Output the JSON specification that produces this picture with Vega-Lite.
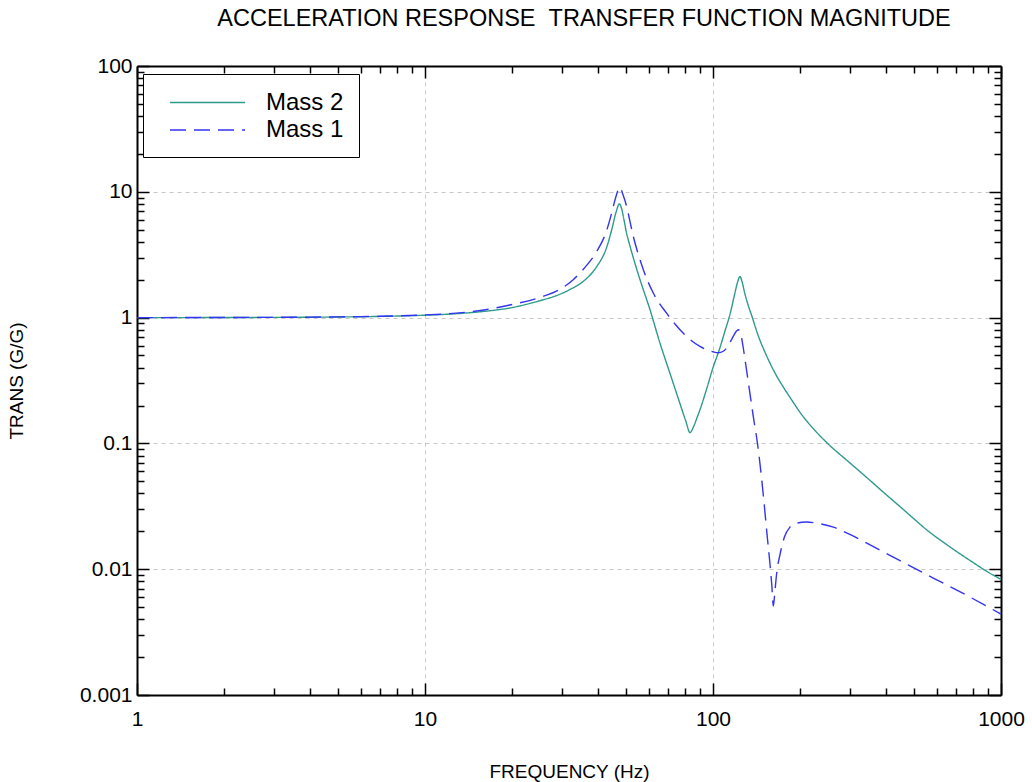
{
  "$schema": "https://vega.github.io/schema/vega-lite/v6.json",
  "width": 864,
  "height": 629,
  "autosize": "none",
  "padding": {"left": 137, "top": 66, "right": 31, "bottom": 87},
  "background": "white",
  "config": {
    "font": "Liberation Sans",
    "view": {"stroke": null},
    "axis": {
      "domainColor": "black",
      "domainWidth": 2,
      "tickColor": "black",
      "tickWidth": 1.5,
      "labelFont": "Liberation Sans",
      "labelFontSize": 21,
      "labelColor": "black",
      "titleFont": "Liberation Sans",
      "titleFontSize": 19,
      "titleFontWeight": "normal",
      "titleColor": "black",
      "labelOverlap": false,
      "labelFlush": false
    },
    "legend": {
      "labelFont": "Liberation Sans",
      "labelFontSize": 24,
      "labelColor": "black"
    }
  },
  "title": {
    "text": "ACCELERATION RESPONSE \u00a0TRANSFER FUNCTION MAGNITUDE",
    "font": "Liberation Sans",
    "fontSize": 23.5,
    "fontWeight": "normal",
    "color": "black",
    "anchor": "middle",
    "offset": 1,
    "dx": 15,
    "baseline": "bottom"
  },
  "data": {
    "values": [
      {"freq": 1, "value": 1.0, "series": "Mass 2"},
      {"freq": 1.5, "value": 1.0, "series": "Mass 2"},
      {"freq": 2, "value": 1.002, "series": "Mass 2"},
      {"freq": 3, "value": 1.004, "series": "Mass 2"},
      {"freq": 4, "value": 1.007, "series": "Mass 2"},
      {"freq": 5, "value": 1.011, "series": "Mass 2"},
      {"freq": 6, "value": 1.016, "series": "Mass 2"},
      {"freq": 7, "value": 1.022, "series": "Mass 2"},
      {"freq": 8, "value": 1.029, "series": "Mass 2"},
      {"freq": 10, "value": 1.045, "series": "Mass 2"},
      {"freq": 12.5, "value": 1.07, "series": "Mass 2"},
      {"freq": 16, "value": 1.12, "series": "Mass 2"},
      {"freq": 20, "value": 1.2, "series": "Mass 2"},
      {"freq": 25, "value": 1.36, "series": "Mass 2"},
      {"freq": 28, "value": 1.47, "series": "Mass 2"},
      {"freq": 32, "value": 1.68, "series": "Mass 2"},
      {"freq": 36, "value": 2.0, "series": "Mass 2"},
      {"freq": 39.5, "value": 2.55, "series": "Mass 2"},
      {"freq": 42.7, "value": 3.6, "series": "Mass 2"},
      {"freq": 44.5, "value": 5.0, "series": "Mass 2"},
      {"freq": 46, "value": 6.8, "series": "Mass 2"},
      {"freq": 47.3, "value": 8.0, "series": "Mass 2"},
      {"freq": 48.2, "value": 7.3, "series": "Mass 2"},
      {"freq": 49, "value": 6.1, "series": "Mass 2"},
      {"freq": 50.1, "value": 4.7, "series": "Mass 2"},
      {"freq": 51.5, "value": 3.7, "series": "Mass 2"},
      {"freq": 52.9, "value": 2.98, "series": "Mass 2"},
      {"freq": 55.8, "value": 2.0, "series": "Mass 2"},
      {"freq": 60.4, "value": 1.16, "series": "Mass 2"},
      {"freq": 65.4, "value": 0.63, "series": "Mass 2"},
      {"freq": 70.9, "value": 0.36, "series": "Mass 2"},
      {"freq": 76.8, "value": 0.207, "series": "Mass 2"},
      {"freq": 80.5, "value": 0.15, "series": "Mass 2"},
      {"freq": 83.2, "value": 0.122, "series": "Mass 2"},
      {"freq": 85.5, "value": 0.135, "series": "Mass 2"},
      {"freq": 88, "value": 0.16, "series": "Mass 2"},
      {"freq": 90.1, "value": 0.185, "series": "Mass 2"},
      {"freq": 95, "value": 0.27, "series": "Mass 2"},
      {"freq": 100, "value": 0.4, "series": "Mass 2"},
      {"freq": 105, "value": 0.55, "series": "Mass 2"},
      {"freq": 110, "value": 0.78, "series": "Mass 2"},
      {"freq": 115, "value": 1.1, "series": "Mass 2"},
      {"freq": 119, "value": 1.55, "series": "Mass 2"},
      {"freq": 122, "value": 1.95, "series": "Mass 2"},
      {"freq": 124, "value": 2.12, "series": "Mass 2"},
      {"freq": 126, "value": 1.95, "series": "Mass 2"},
      {"freq": 129, "value": 1.55, "series": "Mass 2"},
      {"freq": 133, "value": 1.22, "series": "Mass 2"},
      {"freq": 137, "value": 1.0, "series": "Mass 2"},
      {"freq": 141, "value": 0.81, "series": "Mass 2"},
      {"freq": 145, "value": 0.675, "series": "Mass 2"},
      {"freq": 150, "value": 0.56, "series": "Mass 2"},
      {"freq": 157.7, "value": 0.435, "series": "Mass 2"},
      {"freq": 165, "value": 0.355, "series": "Mass 2"},
      {"freq": 175, "value": 0.283, "series": "Mass 2"},
      {"freq": 187, "value": 0.224, "series": "Mass 2"},
      {"freq": 200, "value": 0.178, "series": "Mass 2"},
      {"freq": 225, "value": 0.128, "series": "Mass 2"},
      {"freq": 250, "value": 0.1, "series": "Mass 2"},
      {"freq": 300, "value": 0.0694, "series": "Mass 2"},
      {"freq": 342, "value": 0.0535, "series": "Mass 2"},
      {"freq": 400, "value": 0.039, "series": "Mass 2"},
      {"freq": 450, "value": 0.0309, "series": "Mass 2"},
      {"freq": 500, "value": 0.025, "series": "Mass 2"},
      {"freq": 550, "value": 0.0207, "series": "Mass 2"},
      {"freq": 650, "value": 0.0156, "series": "Mass 2"},
      {"freq": 800, "value": 0.0113, "series": "Mass 2"},
      {"freq": 900, "value": 0.0095, "series": "Mass 2"},
      {"freq": 1000, "value": 0.0083, "series": "Mass 2"},
      {"freq": 1, "value": 1.0, "series": "Mass 1"},
      {"freq": 2, "value": 1.002, "series": "Mass 1"},
      {"freq": 3, "value": 1.005, "series": "Mass 1"},
      {"freq": 4, "value": 1.008, "series": "Mass 1"},
      {"freq": 5, "value": 1.013, "series": "Mass 1"},
      {"freq": 6, "value": 1.018, "series": "Mass 1"},
      {"freq": 7, "value": 1.025, "series": "Mass 1"},
      {"freq": 8, "value": 1.033, "series": "Mass 1"},
      {"freq": 10, "value": 1.05, "series": "Mass 1"},
      {"freq": 12.5, "value": 1.08, "series": "Mass 1"},
      {"freq": 16, "value": 1.15, "series": "Mass 1"},
      {"freq": 19.7, "value": 1.26, "series": "Mass 1"},
      {"freq": 25.4, "value": 1.46, "series": "Mass 1"},
      {"freq": 29, "value": 1.65, "series": "Mass 1"},
      {"freq": 32.7, "value": 2.0, "series": "Mass 1"},
      {"freq": 36.4, "value": 2.6, "series": "Mass 1"},
      {"freq": 39.5, "value": 3.36, "series": "Mass 1"},
      {"freq": 42.7, "value": 4.9, "series": "Mass 1"},
      {"freq": 44.5, "value": 6.8, "series": "Mass 1"},
      {"freq": 45.8, "value": 8.8, "series": "Mass 1"},
      {"freq": 47.5, "value": 10.9, "series": "Mass 1"},
      {"freq": 48.6, "value": 9.6, "series": "Mass 1"},
      {"freq": 50.1, "value": 7.7, "series": "Mass 1"},
      {"freq": 51.5, "value": 5.8, "series": "Mass 1"},
      {"freq": 52.9, "value": 4.4, "series": "Mass 1"},
      {"freq": 55, "value": 3.2, "series": "Mass 1"},
      {"freq": 57.3, "value": 2.4, "series": "Mass 1"},
      {"freq": 62.1, "value": 1.56, "series": "Mass 1"},
      {"freq": 69.1, "value": 1.08, "series": "Mass 1"},
      {"freq": 78.9, "value": 0.75, "series": "Mass 1"},
      {"freq": 90.1, "value": 0.59, "series": "Mass 1"},
      {"freq": 100, "value": 0.535, "series": "Mass 1"},
      {"freq": 104, "value": 0.525, "series": "Mass 1"},
      {"freq": 108.6, "value": 0.54, "series": "Mass 1"},
      {"freq": 113, "value": 0.6, "series": "Mass 1"},
      {"freq": 117.6, "value": 0.71, "series": "Mass 1"},
      {"freq": 120.5, "value": 0.78, "series": "Mass 1"},
      {"freq": 122.4, "value": 0.8, "series": "Mass 1"},
      {"freq": 124.5, "value": 0.76, "series": "Mass 1"},
      {"freq": 127, "value": 0.6, "series": "Mass 1"},
      {"freq": 130, "value": 0.42, "series": "Mass 1"},
      {"freq": 134, "value": 0.26, "series": "Mass 1"},
      {"freq": 138.5, "value": 0.155, "series": "Mass 1"},
      {"freq": 142.7, "value": 0.1, "series": "Mass 1"},
      {"freq": 146, "value": 0.065, "series": "Mass 1"},
      {"freq": 150, "value": 0.036, "series": "Mass 1"},
      {"freq": 154, "value": 0.019, "series": "Mass 1"},
      {"freq": 158, "value": 0.0105, "series": "Mass 1"},
      {"freq": 160, "value": 0.0075, "series": "Mass 1"},
      {"freq": 162, "value": 0.0051, "series": "Mass 1"},
      {"freq": 164, "value": 0.0066, "series": "Mass 1"},
      {"freq": 166.3, "value": 0.0092, "series": "Mass 1"},
      {"freq": 171, "value": 0.0132, "series": "Mass 1"},
      {"freq": 177, "value": 0.018, "series": "Mass 1"},
      {"freq": 185, "value": 0.0216, "series": "Mass 1"},
      {"freq": 195, "value": 0.0232, "series": "Mass 1"},
      {"freq": 211, "value": 0.0237, "series": "Mass 1"},
      {"freq": 230, "value": 0.0232, "series": "Mass 1"},
      {"freq": 262, "value": 0.0216, "series": "Mass 1"},
      {"freq": 300, "value": 0.0188, "series": "Mass 1"},
      {"freq": 342, "value": 0.0161, "series": "Mass 1"},
      {"freq": 446, "value": 0.0117, "series": "Mass 1"},
      {"freq": 582, "value": 0.0085, "series": "Mass 1"},
      {"freq": 760, "value": 0.0062, "series": "Mass 1"},
      {"freq": 1000, "value": 0.0044, "series": "Mass 1"}
    ]
  },
  "layer": [
    {
      "mark": {"type": "line", "strokeWidth": 1.4, "interpolate": "monotone", "clip": true},
      "encoding": {
        "x": {
          "field": "freq", "type": "quantitative",
          "scale": {"type": "log", "domain": [1, 1000], "nice": false},
          "axis": {
            "orient": "bottom",
            "title": "FREQUENCY (Hz)",
            "titlePadding": 28,
            "values": [1,2,3,4,5,6,7,8,9,10,20,30,40,50,60,70,80,90,100,200,300,400,500,600,700,800,900,1000],
            "format": "~g",
            "labelExpr": "abs(log(datum.value)/LN10 - round(log(datum.value)/LN10)) < 0.000001 ? datum.label : ''",
            "labelPadding": 25,
            "tickSize": {"condition": {"test": "abs(log(datum.value)/LN10 - round(log(datum.value)/LN10)) < 0.000001", "value": -12}, "value": -7},
            "grid": true,
            "gridColor": "#c8c8c8",
            "gridDash": [4, 4],
            "gridWidth": 1,
            "gridOpacity": {"condition": {"test": "abs(log(datum.value)/LN10 - round(log(datum.value)/LN10)) < 0.000001", "value": 1}, "value": 0}
          }
        },
        "y": {
          "field": "value", "type": "quantitative",
          "scale": {"type": "log", "domain": [0.001, 100], "nice": false},
          "axis": {
            "orient": "left",
            "title": "TRANS (G/G)",
            "titlePadding": 53,
            "values": [0.001,0.002,0.003,0.004,0.005,0.006,0.007,0.008,0.009,0.01,0.02,0.03,0.04,0.05,0.06,0.07,0.08,0.09,0.1,0.2,0.3,0.4,0.5,0.6,0.7,0.8,0.9,1,2,3,4,5,6,7,8,9,10,20,30,40,50,60,70,80,90,100],
            "format": "~g",
            "labelExpr": "abs(log(datum.value)/LN10 - round(log(datum.value)/LN10)) < 0.000001 ? datum.label : ''",
            "labelPadding": 17,
            "tickSize": {"condition": {"test": "abs(log(datum.value)/LN10 - round(log(datum.value)/LN10)) < 0.000001", "value": -12}, "value": -7},
            "grid": true,
            "gridColor": "#c8c8c8",
            "gridDash": [4, 4],
            "gridWidth": 1,
            "gridOpacity": {"condition": {"test": "abs(log(datum.value)/LN10 - round(log(datum.value)/LN10)) < 0.000001", "value": 1}, "value": 0}
          }
        },
        "color": {
          "field": "series", "type": "nominal",
          "scale": {"domain": ["Mass 2", "Mass 1"], "range": ["#2e9a8e", "#3434f2"]},
          "legend": {
            "title": null, "orient": "none", "legendX": 6, "legendY": 8,
            "symbolType": "M-3,0H3", "symbolSize": 625, "symbolStrokeWidth": 1.4,
            "symbolOffset": 36, "strokeColor": "black", "fillColor": "white", "padding": 15,
            "labelOffset": 45, "rowPadding": 1.5
          }
        },
        "strokeDash": {
          "field": "series", "type": "nominal",
          "scale": {"domain": ["Mass 2", "Mass 1"], "range": [[1, 0], [16, 8]]},
          "legend": {
            "title": null, "orient": "none", "legendX": 6, "legendY": 8,
            "symbolType": "M-3,0H3", "symbolSize": 625, "symbolStrokeWidth": 1.4,
            "symbolOffset": 36, "strokeColor": "black", "fillColor": "white", "padding": 15,
            "labelOffset": 45, "rowPadding": 1.5
          }
        }
      }
    },
    {
      "mark": {"type": "line", "opacity": 0},
      "encoding": {
        "x": {
          "field": "freq", "type": "quantitative",
          "axis": {
            "orient": "top", "title": null, "labels": false, "grid": false,
            "values": [1,2,3,4,5,6,7,8,9,10,20,30,40,50,60,70,80,90,100,200,300,400,500,600,700,800,900,1000],
            "tickSize": {"condition": {"test": "abs(log(datum.value)/LN10 - round(log(datum.value)/LN10)) < 0.000001", "value": -12}, "value": -7}
          }
        },
        "y": {
          "field": "value", "type": "quantitative",
          "axis": {
            "orient": "right", "title": null, "labels": false, "grid": false,
            "values": [0.001,0.002,0.003,0.004,0.005,0.006,0.007,0.008,0.009,0.01,0.02,0.03,0.04,0.05,0.06,0.07,0.08,0.09,0.1,0.2,0.3,0.4,0.5,0.6,0.7,0.8,0.9,1,2,3,4,5,6,7,8,9,10,20,30,40,50,60,70,80,90,100],
            "tickSize": {"condition": {"test": "abs(log(datum.value)/LN10 - round(log(datum.value)/LN10)) < 0.000001", "value": -12}, "value": -7}
          }
        },
        "detail": {"field": "series", "type": "nominal"}
      }
    }
  ],
  "resolve": {"axis": {"x": "independent", "y": "independent"}}
}
